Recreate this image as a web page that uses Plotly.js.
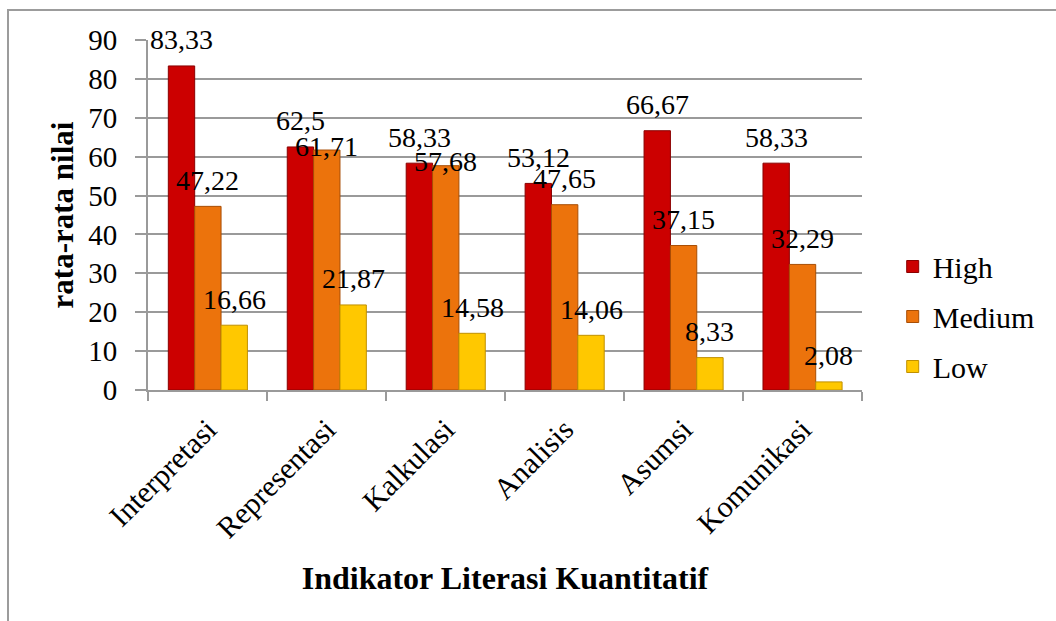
<!DOCTYPE html>
<html>
<head>
<meta charset="utf-8">
<script src="https://cdn.plot.ly/plotly-3.0.1.min.js"></script>
<style>
html,body{margin:0;padding:0;background:#fff;overflow:hidden;}
#wrap{position:relative;width:1056px;height:621px;}
#chart{width:1056px;height:621px;}
#frame{position:absolute;left:7px;top:9px;width:1200px;height:800px;border-top:2px solid #9c9c9c;border-left:2px solid #9c9c9c;pointer-events:none;}
</style>
</head>
<body>
<div id="wrap"><div id="chart"></div><div id="frame"></div></div>
<script>
const categories = ["Interpretasi", "Representasi", "Kalkulasi", "Analisis", "Asumsi", "Komunikasi"];
const seriesNames = ["High", "Medium", "Low"];
const highValues = [83.33, 62.5, 58.33, 53.12, 66.67, 58.33];
const mediumValues = [47.22, 61.71, 57.68, 47.65, 37.15, 32.29];
const lowValues = [16.66, 21.87, 14.58, 14.06, 8.33, 2.08];
const yTicks = [0, 10, 20, 30, 40, 50, 60, 70, 80, 90];

const seriesValues = [highValues, mediumValues, lowValues];
const fillColors = ["#cc0000", "#ec730c", "#ffc800"];
const lineColors = ["#8a0000", "#a84e05", "#c09000"];
const FONT = "'Liberation Serif', 'Times New Roman', serif";
const BARGAP = 0.335;

const traces = seriesValues.map((vals, i) => ({
  type: "bar",
  name: seriesNames[i],
  x: categories,
  y: vals,
  legendgroup: "g" + i,
  marker: {color: fillColors[i], line: {color: lineColors[i], width: 1}},
  hoverinfo: "skip"
}));

const fmt = v => String(v).replace(".", ",");
const barW = (1 - BARGAP) / 3;
const annotations = [];
seriesValues.forEach((vals, s) => {
  vals.forEach((v, k) => {
    // like the source chart, a label crowded by its taller neighbour sits lower
    const crowded = s === 1 && Math.abs(highValues[k] - v) < 1.5;
    annotations.push({
      x: k + (s - 1) * barW, y: v, xref: "x", yref: "y",
      text: fmt(v), showarrow: false, yanchor: "middle", yshift: crowded ? 4 : 26,
      font: {family: FONT, size: 28, color: "#000"}
    });
  });
});

const layout = {
  width: 1056, height: 621,
  margin: {l: 148, r: 194, t: 40, b: 231},
  paper_bgcolor: "#fff", plot_bgcolor: "#fff",
  barmode: "group", bargap: BARGAP, bargroupgap: 0,
  font: {family: FONT, size: 28, color: "#000"},
  xaxis: {
    type: "category",
    tickangle: -45,
    ticks: "outside", tickson: "boundaries", ticklen: 9, tickcolor: "#9a9a9a", tickwidth: 2,
    ticklabelstandoff: 8,
    showline: true, linecolor: "#9a9a9a", linewidth: 2,
    tickfont: {family: FONT, size: 30, color: "#000"},
    title: {text: "<b>Indikator Literasi Kuantitatif</b>", font: {family: FONT, size: 32, color: "#000"}, standoff: 23},
    automargin: false
  },
  yaxis: {
    range: [0, 90], tickvals: yTicks, ticktext: yTicks.map(String),
    ticks: "outside", ticklen: 11, tickcolor: "#9a9a9a", tickwidth: 2,
    ticklabelstandoff: 12,
    showline: true, linecolor: "#9a9a9a", linewidth: 2,
    showgrid: true, gridcolor: "#9a9a9a", gridwidth: 2,
    zeroline: false,
    tickfont: {family: FONT, size: 29, color: "#000"},
    title: {text: "<b>rata-rata nilai</b>", font: {family: FONT, size: 31, color: "#000"}, standoff: 5},
    automargin: false
  },
  legend: {
    x: 1.043, xanchor: "left", y: 0.21, yanchor: "middle",
    font: {family: FONT, size: 30, color: "#000"},
    tracegroupgap: 8, bgcolor: "rgba(0,0,0,0)"
  },
  annotations: annotations,
  showlegend: true
};

Plotly.newPlot("chart", traces, layout, {staticPlot: true, displayModeBar: false});
</script>
</body>
</html>
